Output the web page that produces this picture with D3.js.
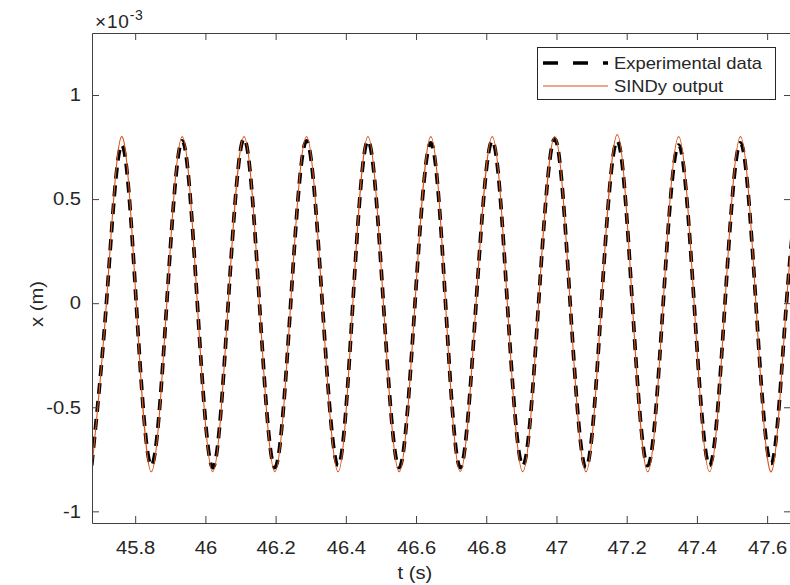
<!DOCTYPE html>
<html>
<head>
<meta charset="utf-8">
<script src="https://cdn.jsdelivr.net/npm/d3@7"></script>
<style>
  body { margin: 0; background: #fff; }
  text { font-family: "Liberation Sans", Arial, Helvetica, sans-serif; fill: #262626; }
</style>
</head>
<body>
<div id="chart"></div>
<script>
// knot times (s): troughs, zero crossings and peaks
const tKnots = [
  45.676, 45.718, 45.761, 45.803, 45.846, 45.890, 45.934, 45.977,
  46.021, 46.065, 46.110, 46.154, 46.198, 46.243, 46.288, 46.333,
  46.378, 46.420, 46.463, 46.507, 46.552, 46.597, 46.642, 46.684,
  46.726, 46.771, 46.817, 46.860, 46.904, 46.949, 46.995, 47.039,
  47.084, 47.128, 47.173, 47.216, 47.260, 47.304, 47.348, 47.392,
  47.436, 47.480, 47.524, 47.568, 47.612, 47.655, 47.699
];
// x (1e-3 m) for the SINDy output
const sindyX = [
  -0.80, 0, 0.80, 0, -0.81, 0, 0.80, 0,
  -0.81, 0, 0.80, 0, -0.81, 0, 0.80, 0,
  -0.81, 0, 0.80, 0, -0.81, 0, 0.80, 0,
  -0.81, 0, 0.80, 0, -0.81, 0, 0.80, 0,
  -0.81, 0, 0.81, 0, -0.81, 0, 0.80, 0,
  -0.81, 0, 0.80, 0, -0.81, 0, 0.80
];
// x (1e-3 m) for the experimental data
const expX = [
  -0.78, 0, 0.76, 0, -0.78, 0, 0.78, 0,
  -0.79, 0, 0.79, 0, -0.79, 0, 0.78, 0,
  -0.78, 0, 0.78, 0, -0.79, 0, 0.77, 0,
  -0.79, 0, 0.78, 0, -0.78, 0, 0.79, 0,
  -0.79, 0, 0.78, 0, -0.78, 0, 0.76, 0,
  -0.78, 0, 0.77, 0, -0.77, 0, 0.77
];
const xTicks = [45.8, 46, 46.2, 46.4, 46.6, 46.8, 47, 47.2, 47.4, 47.6];
const yTicks = [-1, -0.5, 0, 0.5, 1];
const seriesNames = ["Experimental data", "SINDy output"];

const W = 790, H = 585;
const box = { left: 92, top: 33, right: 791, bottom: 523 };
const axisColor = "#404040";
const stretch = 1.12;

const svg = d3.select("#chart").append("svg")
  .attr("width", W)
  .attr("height", H);

const x = d3.scaleLinear().domain([45.677, 47.668]).range([box.left, box.right]);
const y = d3.scaleLinear().domain([-1.056, 1.298]).range([box.bottom, box.top]);

svg.append("defs").append("clipPath").attr("id", "plotclip")
  .append("rect")
  .attr("x", box.left).attr("y", box.top)
  .attr("width", box.right - box.left).attr("height", box.bottom - box.top);

const line = d3.line()
  .x((d, i) => x(tKnots[i]))
  .y(d => y(d))
  .curve(d3.curveNatural);

const plot = svg.append("g").attr("clip-path", "url(#plotclip)");

plot.append("path")
  .attr("d", line(expX))
  .attr("fill", "none")
  .attr("stroke", "#000")
  .attr("stroke-width", 3.7)
  .attr("stroke-dasharray", "11,7");

plot.append("path")
  .attr("d", line(sindyX))
  .attr("fill", "none")
  .attr("stroke", "#D95319")
  .attr("stroke-width", 1.1);

// axes (MATLAB box style, ticks inside)
const bottomAxis = svg.append("g")
  .attr("transform", `translate(0,${box.bottom})`)
  .call(d3.axisBottom(x).tickValues(xTicks).tickSizeInner(-7).tickSizeOuter(0).tickPadding(15).tickFormat(d3.format("")));
const topAxis = svg.append("g")
  .attr("transform", `translate(0,${box.top})`)
  .call(d3.axisTop(x).tickValues(xTicks).tickSizeInner(-7).tickSizeOuter(0).tickFormat(""));
const leftAxis = svg.append("g")
  .attr("transform", `translate(${box.left},0)`)
  .call(d3.axisLeft(y).tickValues(yTicks).tickSizeInner(-7).tickSizeOuter(0).tickPadding(18).tickFormat(d3.format("")));
const rightAxis = svg.append("g")
  .attr("transform", `translate(${box.right},0)`)
  .call(d3.axisRight(y).tickValues(yTicks).tickSizeInner(-7).tickSizeOuter(0).tickFormat(""));

[bottomAxis, topAxis, leftAxis, rightAxis].forEach(g => {
  g.select(".domain").attr("stroke", axisColor);
  g.selectAll(".tick line").attr("stroke", axisColor);
  g.selectAll(".tick text")
    .attr("fill", "#262626")
    .style("font-size", "18px")
    .style("font-family", "'Liberation Sans', Arial, sans-serif");
});
bottomAxis.selectAll(".tick text").attr("dy", "0.9em");
leftAxis.selectAll(".tick text").attr("x", -11).text(d => d === 0 ? "0" : String(d));

// exponent label
const expLabel = svg.append("text")
  .attr("x", 95).attr("y", 28)
  .style("font-size", "19px")
  .style("letter-spacing", "0.8px");
expLabel.append("tspan").text("\u00d710");
expLabel.append("tspan").attr("dy", -8).style("font-size", "14px").text("-3");

// axis titles
svg.append("text")
  .attr("x", 415).attr("y", 579)
  .attr("text-anchor", "middle")
  .style("font-size", "18px")
  .text("t (s)");

svg.append("text")
  .attr("transform", "translate(43,304) rotate(-90)")
  .attr("text-anchor", "middle")
  .style("font-size", "18px")
  .text("x (m)");

// legend
const legend = svg.append("g");
legend.append("rect")
  .attr("x", 537.5).attr("y", 47.5)
  .attr("width", 238).attr("height", 52)
  .attr("fill", "#fff")
  .attr("stroke", "#262626")
  .attr("stroke-width", 1);

const rows = [
  { name: seriesNames[0], color: "#000", width: 3.7, dash: "15,15", cy: 63 },
  { name: seriesNames[1], color: "#D95319", width: 1.1, dash: null, cy: 86 }
];
rows.forEach(r => {
  legend.append("line")
    .attr("x1", 543).attr("x2", 608)
    .attr("y1", r.cy).attr("y2", r.cy)
    .attr("stroke", r.color)
    .attr("stroke-width", r.width)
    .attr("stroke-dasharray", r.dash);
  legend.append("text")
    .attr("class", "legend-label")
    .attr("x", 614).attr("y", r.cy + 6)
    .style("font-size", "17px")
    .text(r.name);
});

// MATLAB text renders a touch wider than Liberation Sans
svg.selectAll("text").each(function () {
  const w = this.getComputedTextLength();
  if (w > 0 && !this.querySelector("tspan")) {
    const s = this.classList.contains("legend-label") ? 1.08 : stretch;
    d3.select(this).attr("textLength", w * s).attr("lengthAdjust", "spacingAndGlyphs");
  }
});
</script>
</body>
</html>
